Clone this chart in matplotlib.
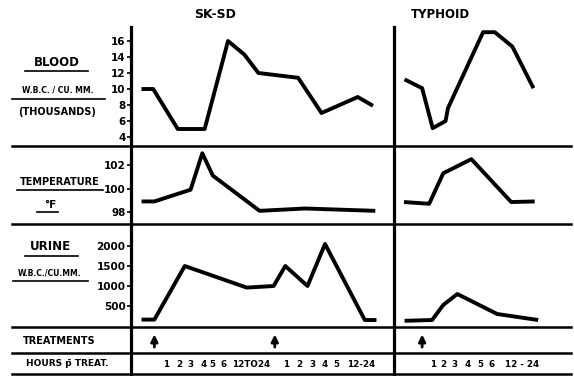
import matplotlib
matplotlib.use("Agg")
import matplotlib.pyplot as plt
from matplotlib.lines import Line2D

plt.rcParams['font.family'] = ['DejaVu Sans']
plt.rcParams['font.weight'] = 'bold'

# x is in "time slots": treatment, then hours 1..6, then the 12-24 h stretch
# SK-SD column
sk_blood_x = [0.9, 1.9, 4.0, 6.3, 8.3, 9.7, 10.9, 14.3, 16.3, 19.4, 20.7]
sk_blood = [10, 10, 5, 5, 16, 14.3, 12, 11.4, 7, 9, 7.9]
sk_temp_x = [0.9, 2.0, 5.1, 6.1, 7.0, 11.0, 14.9, 20.9]
sk_temp = [98.9, 98.9, 99.9, 103.0, 101.1, 98.1, 98.3, 98.1]
sk_urine_x = [0.9, 2.0, 4.6, 9.9, 12.2, 13.2, 15.1, 16.6, 20.0, 21.0]
sk_urine = [160, 160, 1500, 960, 1000, 1500, 1000, 2050, 150, 150]
sk_treat_x = [2.0, 12.3]
sk_hour_x = [3.0, 4.1, 5.1, 6.2, 7.0, 7.9, 10.3, 13.3, 14.4, 15.5, 16.6, 17.6, 19.7]
sk_hour_lab = ['1', '2', '3', '4', '5', '6', '12TO24', '1', '2', '3', '4', '5', '12-24']

# Typhoid column
ty_blood_x = [0.9, 2.4, 3.3, 4.4, 4.6, 7.6, 8.6, 10.1, 11.9]
ty_blood = [11.2, 10.1, 5.1, 6.0, 7.6, 17.1, 17.1, 15.3, 10.1]
ty_temp_x = [0.85, 3.0, 4.2, 6.6, 10.0, 12.0]
ty_temp = [98.85, 98.7, 101.3, 102.5, 98.85, 98.9]
ty_urine_x = [0.9, 3.25, 4.2, 5.4, 8.8, 12.3]
ty_urine = [130, 150, 525, 800, 300, 150]
ty_treat_x = [2.4]
ty_hour_x = [3.3, 4.2, 5.2, 6.3, 7.4, 8.3, 10.9]
ty_hour_lab = ['1', '2', '3', '4', '5', '6', '12 - 24']

blood_ticks = [4, 6, 8, 10, 12, 14, 16]
temp_ticks = [98, 100, 102]
urine_ticks = [500, 1000, 1500, 2000]

W, H = 574, 376


def fx(px):
    return px / W


def fy(py):
    return 1 - py / H


def box(x0, x1, y0, y1):
    return [fx(x0), fy(y1), fx(x1) - fx(x0), fy(y0) - fy(y1)]


fig = plt.figure(figsize=(W / 100, H / 100), dpi=100)

cols = [(131, 394, 22.5), (394, 571, 15.1)]
rows = [(27, 146, (2.875, 17.75)), (146, 224, (96.98, 103.62)),
        (224, 327, (-25, 2550)), (327, 353, (0, 1)), (353, 376, (0, 1))]

axes = []
for ci, (x0, x1, xmax) in enumerate(cols):
    col_axes = []
    for ri, (y0, y1, ylim) in enumerate(rows):
        ax = fig.add_axes(box(x0, x1, y0, y1))
        ax.set_xlim(0, xmax)
        ax.set_ylim(*ylim)
        ax.set_frame_on(False)
        ax.set_xticks([])
        ax.set_yticks([])
        col_axes.append(ax)
    axes.append(col_axes)

# vertical axis line and column divider
for px in [131, 394]:
    fig.add_artist(Line2D([fx(px), fx(px)], [fy(27), fy(376)],
                          color='black', lw=2.3))

# y ticks only on the SK-SD column
for ax, ticks in zip(axes[0][:3], [blood_ticks, temp_ticks, urine_ticks]):
    ax.set_yticks(ticks)
    ax.tick_params(axis='y', direction='out', length=3, width=1.2, pad=1,
                   labelsize=7.5)
    for t in ax.get_yticklabels():
        t.set_fontweight('bold')

line_kw = dict(color='black', lw=2.8, solid_joinstyle='round',
               solid_capstyle='butt')
axes[0][0].plot(sk_blood_x, sk_blood, **line_kw)
axes[0][1].plot(sk_temp_x, sk_temp, **line_kw)
axes[0][2].plot(sk_urine_x, sk_urine, **line_kw)
axes[1][0].plot(ty_blood_x, ty_blood, **line_kw)
axes[1][1].plot(ty_temp_x, ty_temp, **line_kw)
axes[1][2].plot(ty_urine_x, ty_urine, **line_kw)

# treatment arrows
for ax, xs in [(axes[0][3], sk_treat_x), (axes[1][3], ty_treat_x)]:
    for x in xs:
        ax.annotate('', xy=(x, 0.82), xytext=(x, 0.12),
                    arrowprops=dict(arrowstyle='-|>', lw=2, color='black',
                                    mutation_scale=10))

# hour labels
for ax, xs, labs in [(axes[0][4], sk_hour_x, sk_hour_lab),
                     (axes[1][4], ty_hour_x, ty_hour_lab)]:
    for x, lab in zip(xs, labs):
        ax.text(x, 0.5, lab, ha='center', va='center', fontsize=6.3,
                fontweight='bold')

# horizontal rules across the whole chart
for py in [146, 224, 327, 353, 374]:
    fig.add_artist(Line2D([fx(12), fx(571)], [fy(py), fy(py)],
                          color='black', lw=1.8))

# column titles
fig.text(fx(215), fy(14), 'SK-SD', ha='center', va='center', fontsize=9,
         fontweight='bold')
fig.text(fx(440), fy(14), 'TYPHOID', ha='center', va='center', fontsize=8.5,
         fontweight='bold')


def label(px, py, s, size, ul=None):
    fig.text(fx(px), fy(py), s, ha='center', va='center', fontsize=size,
             fontweight='bold')
    if ul:
        fig.add_artist(Line2D([fx(ul[0]), fx(ul[1])], [fy(ul[2]), fy(ul[2])],
                              color='black', lw=1.2))


label(57, 62, 'BLOOD', 8.5, (25, 88, 71))
label(58, 90, 'W.B.C. / CU. MM.', 5.5, (12, 105, 99))
label(57, 112, '(THOUSANDS)', 7)
label(60, 182, 'TEMPERATURE', 7, (17, 103, 190))
label(50, 205, '°F', 7.5, (37, 58, 212))
label(50, 247, 'URINE', 8.5, (25, 78, 256))
label(50, 273, 'W.B.C./CU.MM.', 5.5, (13, 88, 281))
label(59, 341, 'TREATMENTS', 7)
label(67, 364, 'HOURS p\u0304 TREAT.', 6.5)

fig.savefig('out.png', dpi=100, facecolor='white')
